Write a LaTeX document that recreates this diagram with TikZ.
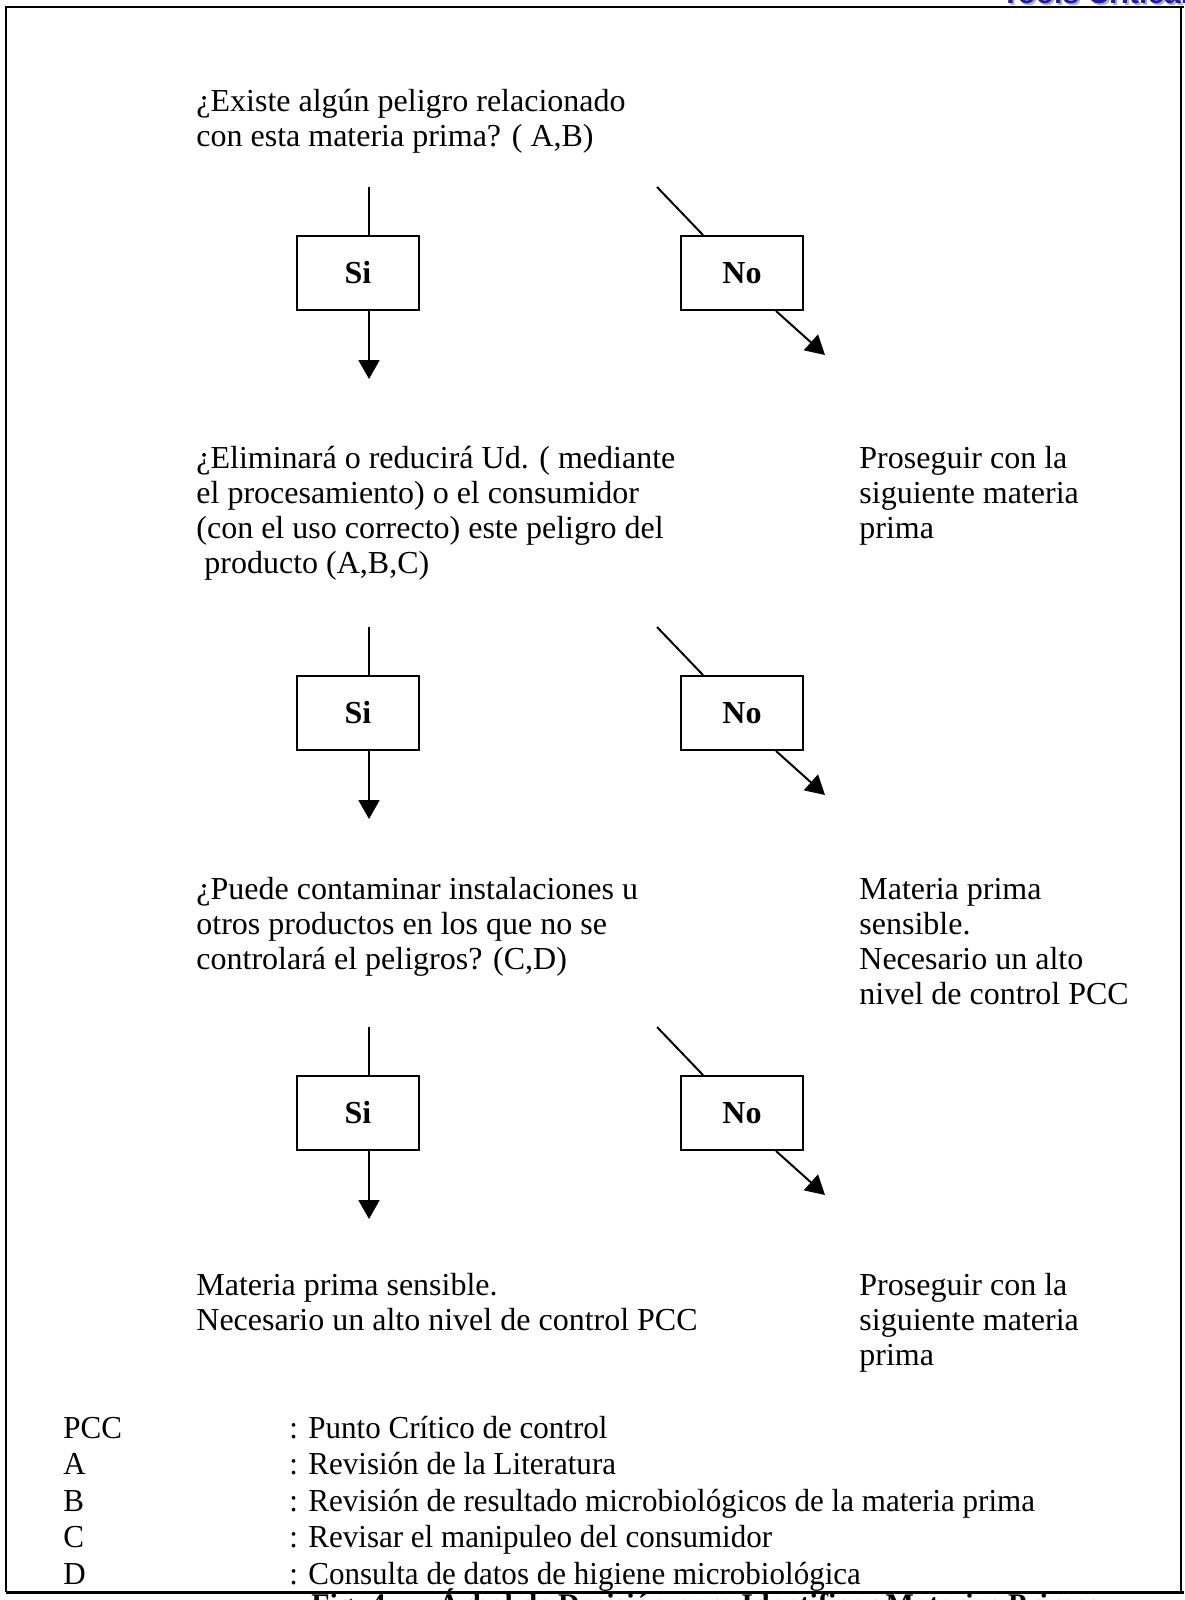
\documentclass[tikz,border=0pt]{standalone}
\usepackage{fontspec}
\setmainfont{Liberation Serif}
\newfontfamily\hdrfont{Liberation Sans}
\newfontfamily\legfont{Liberation Serif}[FakeStretch=0.97]
\usetikzlibrary{arrows.meta,calc}
\newcommand\bodytxt{\fontsize{16}{17.5}\selectfont}
\newcommand\legtxt{\legfont\fontsize{16}{18.25}\selectfont}
\definecolor{hdrblue}{RGB}{30,30,160}
\begin{document}
\begin{tikzpicture}[x=0.5pt,y=-0.5pt,
  choicebox/.style={draw,line width=1pt,minimum width=61pt,minimum height=37pt,inner sep=0pt,font=\bodytxt\bfseries},
  qtext/.style={anchor=north west,inner sep=0pt,align=left,font=\bodytxt},
  legtext/.style={anchor=north west,inner sep=0pt,align=left,font=\legtxt},
  link/.style={line width=1pt},
  arrowlink/.style={line width=1pt,-{Triangle[length=9.5pt,width=10.5pt]}},
]
\useasboundingbox (0,0) rectangle (1184,1600);
\clip (0,0) rectangle (1184,1600);
\fill[white] (0,0) rectangle (1184,1600);

% clipped running header
\node[anchor=base west,inner sep=0pt,font=\hdrfont\bfseries\fontsize{15}{18}\selectfont,text=gray!60] (hdrsh) at (1003,6) {Tools Critical};
\node[anchor=base west,inner sep=0pt,font=\hdrfont\bfseries\fontsize{15}{18}\selectfont,text=hdrblue] (hdr) at (1001,4) {Tools Critical};

% frame
\draw[line width=1pt] (6,1592) -- (6,7) -- (1184,7);
\draw[line width=1pt] (1181,7) -- (1181,1592);
\draw[line width=1.5pt] (6,1592) -- (1184,1592);

% clipped caption
\node[anchor=base west,inner sep=0pt,font=\bfseries\fontsize{15}{17}\selectfont] (title) at (311,1614) {Fig. 4.\hspace{1.5em}Árbol de Decisión para Identificar Materias Primas};

% questions and outcomes
\node[qtext] (q1) at (196,86.5) {\strut ¿Existe algún peligro relacionado\\\strut con esta materia prima? ( A,B)};
\node[qtext] (q2) at (196,443.5) {\strut ¿Eliminará o reducirá Ud. ( mediante\\\strut el procesamiento) o el consumidor\\\strut (con el uso correcto) este peligro del\\\strut\hspace{0.25em}producto (A,B,C)};
\node[qtext] (r1) at (859,443.5) {\strut Proseguir con la\\\strut siguiente materia\\\strut prima};
\node[qtext] (q3) at (196,874.5) {\strut ¿Puede contaminar instalaciones u\\\strut otros productos en los que no se\\\strut controlará el peligros? (C,D)};
\node[qtext] (r2) at (859,874.5) {\strut Materia prima\\\strut sensible.\\\strut Necesario un alto\\\strut nivel de control PCC};
\node[qtext] (q4) at (196,1270.5) {\strut Materia prima sensible.\\\strut Necesario un alto nivel de control PCC};
\node[qtext] (r3) at (859,1270.5) {\strut Proseguir con la\\\strut siguiente materia\\\strut prima};

% Si / No groups
\foreach \k/\dy in {1/0,2/440,3/840}{
  \node[choicebox] (si\k) at (358,273+\dy) {Si};
  \node[choicebox] (no\k) at (742,273+\dy) {No};
  \coordinate (siin\k) at (369,187+\dy);
  \coordinate (siout\k) at (369,379+\dy);
  \coordinate (noin\k) at (657,187+\dy);
  \coordinate (noout\k) at (825,355+\dy);
  \draw[link] (siin\k) -- (siin\k |- si\k.north);
  \draw[arrowlink] (siout\k |- si\k.south) -- (siout\k);
  \draw[link] (noin\k) -- ($(no\k.north west)+(23,0)$);
  \draw[arrowlink] ($(no\k.south west)+(96,0)$) -- (noout\k);
}

% legend
\node[legtext] (legkeys) at (63,1412.5) {\strut PCC\\\strut A\\\strut B\\\strut C\\\strut D};
\node[legtext] (legvals) at (289,1412.5) {\strut : Punto Crítico de control\\\strut : Revisión de la Literatura\\\strut : Revisión de resultado microbiológicos de la materia prima\\\strut : Revisar el manipuleo del consumidor\\\strut : Consulta de datos de higiene microbiológica};
\end{tikzpicture}
\end{document}
